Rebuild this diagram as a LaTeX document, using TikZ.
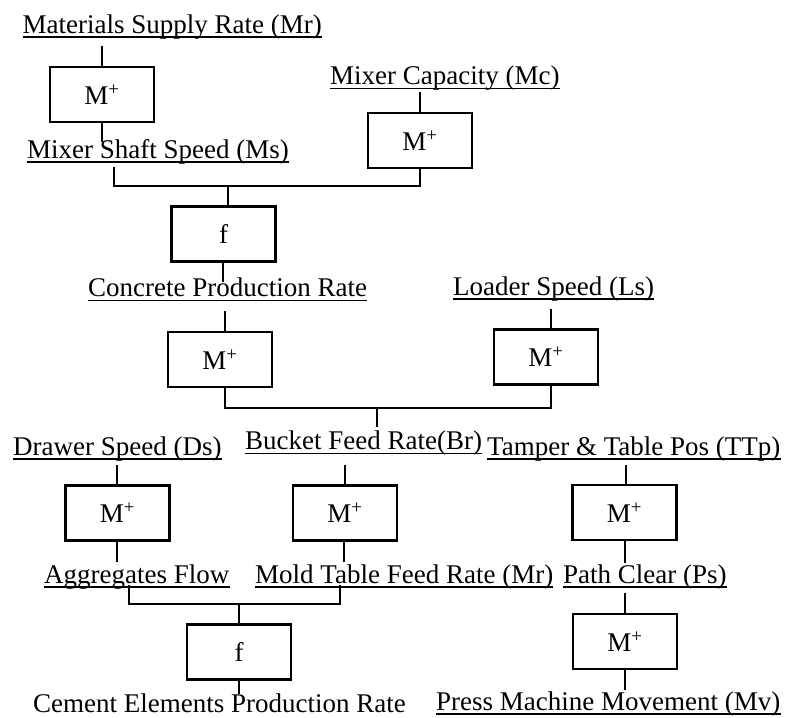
\documentclass[tikz,border=0pt]{standalone}
\usepackage{fontspec}
\setmainfont{Liberation Serif}
\newcommand\ulabel[1]{\draw[uline] ([yshift=-4pt]#1.base west) -- ([yshift=-4pt]#1.base east);}
\begin{document}
\begin{tikzpicture}[x=1pt,y=-1pt,
  lbl/.style={anchor=base west, inner sep=0pt, font=\fontsize{27}{32}\selectfont},
  blk/.style={draw, line width=2.2pt, minimum width=104pt, minimum height=55pt, inner sep=0pt, font=\fontsize{27}{32}\selectfont},
  wire/.style={line width=2pt},
  uline/.style={line width=1.6pt}]
\useasboundingbox (0,0) rectangle (796,718);

% labels
\node[lbl] (mr)  at (22.5,33)  {Materials Supply Rate (Mr)};
\node[lbl] (ms)  at (27,158)   {Mixer Shaft Speed (Ms)};
\node[lbl] (mc)  at (330,84.5) {Mixer Capacity (Mc)};
\node[lbl] (cpr) at (88,296.5) {Concrete Production Rate};
\node[lbl] (ls)  at (453,295)  {Loader Speed (Ls)};
\node[lbl] (ds)  at (13,455)   {Drawer Speed (Ds)};
\node[lbl] (br)  at (245,449.5){Bucket Feed Rate(Br)};
\node[lbl] (ttp) at (487,455)  {Tamper \& Table Pos (TTp)};
\node[lbl] (af)  at (44,583)   {Aggregates Flow};
\node[lbl] (mtf) at (255,583)  {Mold Table Feed Rate (Mr)};
\node[lbl] (pc)  at (563,583)  {Path Clear (Ps)};
\node[lbl] (cep) at (33,712.5) {Cement Elements Production Rate};
\node[lbl] (pmm) at (436,710)  {Press Machine Movement (Mv)};
\foreach \n in {mr,ms,mc,cpr,ls,ds,br,ttp,af,mtf,pc,pmm}{\ulabel{\n}}

% blocks
\node[blk] (b1) at (102,94.5)   {M\textsuperscript{+}};
\node[blk] (b2) at (420,140.5)  {M\textsuperscript{+}};
\node[blk] (f1) at (223.5,234)  {f};
\node[blk] (b3) at (220,359.5)  {M\textsuperscript{+}};
\node[blk] (b4) at (546,357)    {M\textsuperscript{+}};
\node[blk] (b5) at (117.5,513)  {M\textsuperscript{+}};
\node[blk] (b6) at (345,513)    {M\textsuperscript{+}};
\node[blk] (b7) at (624.5,512.5){M\textsuperscript{+}};
\node[blk] (f2) at (239,652)    {f};
\node[blk] (b8) at (625,641.5)  {M\textsuperscript{+}};

% connector points
\coordinate (mrE) at (102,46);
\coordinate (b1E) at (102,142);
\coordinate (msE) at (114,167);
\coordinate (j1)  at (228,186);
\coordinate (b2j) at (420,186);
\coordinate (mcE) at (420,92);
\coordinate (f1E) at (223,282);
\coordinate (cprE) at (224.5,311);
\coordinate (b3s) at (224.5,388);
\coordinate (j2)  at (377,408);
\coordinate (b4s) at (551,386);
\coordinate (lsE) at (551,309);
\coordinate (brE) at (377,427);
\coordinate (dsE) at (117,465);
\coordinate (br2) at (345,465);
\coordinate (ttpE) at (626,465);
\coordinate (b5E) at (117,562);
\coordinate (b6E) at (344,562);
\coordinate (afE) at (129,585);
\coordinate (mtfE) at (340,585);
\coordinate (j3)  at (239,604);
\coordinate (f2E) at (239,694);
\coordinate (b7E) at (625,563);
\coordinate (pcE) at (625,593);
\coordinate (b8E) at (625,690);

% connectors
\draw[wire] (mrE) -- (b1.north);
\draw[wire] (b1.south) -- (b1E);
\draw[wire] (msE) |- (b2j) -- (b2.south);
\draw[wire] (j1) -- (j1 |- f1.north);
\draw[wire] (mcE) -- (b2.north);
\draw[wire] (f1E |- f1.south) -- (f1E);
\draw[wire] (cprE) -- (cprE |- b3.north);
\draw[wire] (b3s) |- (j2) -| (b4s);
\draw[wire] (lsE) -- (lsE |- b4.north);
\draw[wire] (j2) -- (brE);
\draw[wire] (dsE) -- (dsE |- b5.north);
\draw[wire] (br2) -- (br2 |- b6.north);
\draw[wire] (ttpE) -- (ttpE |- b7.north);
\draw[wire] (b5E |- b5.south) -- (b5E);
\draw[wire] (b6E |- b6.south) -- (b6E);
\draw[wire] (afE) |- (j3) -| (mtfE);
\draw[wire] (j3) -- (f2.north);
\draw[wire] (f2.south) -- (f2E);
\draw[wire] (b7E |- b7.south) -- (b7E);
\draw[wire] (pcE) -- (pcE |- b8.north);
\draw[wire] (b8E |- b8.south) -- (b8E);
\end{tikzpicture}
\end{document}
